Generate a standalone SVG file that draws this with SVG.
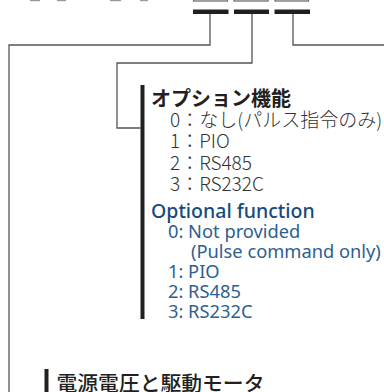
<svg xmlns="http://www.w3.org/2000/svg" width="384" height="392" viewBox="0 0 384 392">
<style>
.ln{fill:none;stroke:#555;stroke-width:1.3}
.bar{fill:#231f20}
.jt{font-family:"Noto Sans CJK JP","Noto Sans",sans-serif;fill:#231f20}
.jl{font-family:"Noto Sans CJK JP","Noto Sans",sans-serif;fill:#333;font-weight:300;font-size:19px}
.et{font-family:"Noto Sans","Noto Sans CJK JP",sans-serif;fill:#174a7c;font-weight:500;font-size:19.5px}
.el{font-family:"Noto Sans","Noto Sans CJK JP",sans-serif;fill:#2d5f8f;font-weight:400;font-size:18.3px}
.box{fill:#f2f2f2;stroke:#666;stroke-width:1.2}
.frag{fill:#999}
</style>
<g id="header">
<rect class="frag" x="30" y="0" width="10" height="1.2"/>
<rect class="frag" x="57" y="0" width="9" height="1.2"/>
<rect class="frag" x="110" y="0" width="11" height="1.2"/>
<rect class="frag" x="140" y="0" width="8" height="1.2"/>
<rect class="box" x="193.5" y="-10" width="34" height="11"/>
<rect class="box" x="234" y="-10" width="34" height="11"/>
<rect class="box" x="275" y="-10" width="33.5" height="11"/>
<rect class="bar" x="193" y="9.5" width="35.5" height="4.5"/>
<rect class="bar" x="234" y="9.5" width="35" height="4.5"/>
<rect class="bar" x="274.5" y="9.5" width="35.5" height="4.5"/>
</g>
<g id="connectors">
<path class="ln" d="M210,14 V45 H9 V392"/>
<path class="ln" d="M252,14 V63 H117 V128 H140.5"/>
<path class="ln" d="M293,14 V45 H384"/>
</g>
<g id="option">
<rect class="bar" x="140.5" y="85" width="4" height="234"/>
<text class="jt" x="151" y="106" font-size="20" font-weight="700">オプション機能</text>
<text class="jl" x="170" y="127">0：なし(パルス指令のみ)</text>
<text class="jl" x="170" y="148">1：PIO</text>
<text class="jl" x="170" y="170">2：RS485</text>
<text class="jl" x="170" y="191">3：RS232C</text>
<text class="et" x="151" y="218">Optional function</text>
<text class="el" x="168" y="238">0: Not provided</text>
<text class="el" x="191" y="258">(Pulse command only)</text>
<text class="el" x="168" y="277.5">1: PIO</text>
<text class="el" x="168" y="297.5">2: RS485</text>
<text class="el" x="168" y="317.5">3: RS232C</text>
</g>
<g id="power">
<rect class="bar" x="44.5" y="369" width="4" height="23"/>
<text class="jt" x="56.5" y="391" font-size="20.8" font-weight="500">電源電圧と駆動モータ</text>
</g>
</svg>
